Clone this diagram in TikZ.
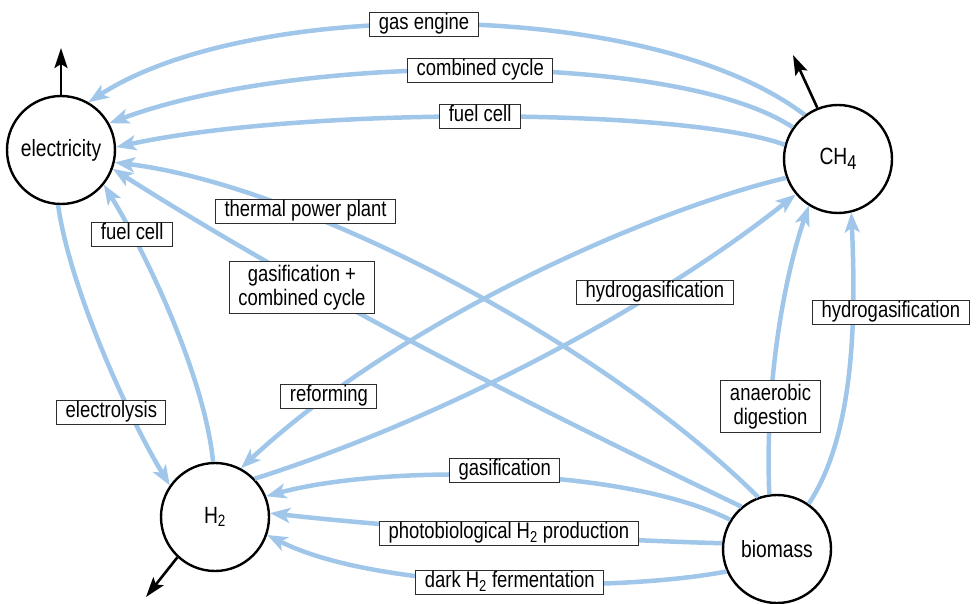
\documentclass[tikz,border=0pt]{standalone}
\usepackage{fontspec}
\setmainfont{Liberation Sans}[FakeStretch=0.82]
\usepackage{tikz}
\usetikzlibrary{arrows.meta}
\definecolor{flowcolor}{RGB}{160, 199, 234}
\definecolor{boxcolor}{RGB}{45, 45, 45}
\newcommand{\lowidx}[1]{\raisebox{-0.45ex}{\fontsize{20}{20}\selectfont #1}}

\begin{document}
\begin{tikzpicture}[x=1pt, y=-1pt,
    carrier/.style={draw, circle, line width=2.4pt, fill=white, minimum size=108pt, inner sep=0pt, font=\fontsize{23.5}{25}\selectfont},
    flow/.style={draw=flowcolor, line width=4.5pt, -{Stealth[length=20pt, width=15pt, inset=5pt]}},
    routebase/.style={draw=boxcolor, line width=1pt, fill=white, text=black, inner xsep=9pt, font=\fontsize{22.5}{24}\selectfont, align=center},
    route/.style={routebase, inner ysep=3pt, text height=14pt, text depth=4pt},
    routetwo/.style={routebase, inner ysep=3.5pt},
    output/.style={line width=2.6pt, -{Stealth[length=20pt, width=13pt, inset=4pt]}}]
    \useasboundingbox (0,0) rectangle (979,604);

    % Energy carriers
    \node[carrier] (elec) at (61,150) {electricity};
    \node[carrier] (ch4) at (838,159) {CH\lowidx{4}};
    \node[carrier] (h2) at (215,517) {H\textsubscript{2}};
    \node[carrier] (bio) at (777,549) {biomass};

    % Methane to electricity
    \draw[flow] (ch4.127) .. controls (650,-3) and (250,-3) .. node[route, pos=0.53] {gas engine} (elec.60);
    \draw[flow] (ch4.145) .. controls (680,52) and (300,52) .. node[route, pos=0.5] {combined cycle} (elec.29);
    \draw[flow] (ch4.165) .. controls (680,107) and (300,107) .. node[route, pos=0.5] {fuel cell} (elec.3);

    % Biomass to electricity
    \draw[flow] (bio.110) .. controls (600,340) and (300,185) .. node[route, pos=0.7, yshift=3pt] {thermal power plant} (elec.-13);
    \draw[flow] (bio.130) .. controls (540,410) and (320,300) .. node[routetwo, pos=0.7, yshift=-6pt] {gasification +\\combined cycle} (elec.-20);

    % Hydrogen and electricity
    \draw[flow] (h2.92) .. controls (205,380) and (150,260) .. node[route, pos=0.8] {fuel cell} (elec.-39);
    \draw[flow] (elec.-93) .. controls (70,290) and (130,420) .. node[route, pos=0.7, xshift=-19pt] {electrolysis} (h2.145);

    % Methane and hydrogen
    \draw[flow] (ch4.200) .. controls (650,210) and (400,320) .. node[route, pos=0.83] {reforming} (h2.62);
    \draw[flow] (h2.44) .. controls (440,420) and (650,310) .. node[route, pos=0.71] {hydrogasification} (ch4.220);

    % Biomass to methane
    \draw[flow] (bio.98) .. controls (765,400) and (780,290) .. node[routetwo, pos=0.3] {anaerobic\\digestion} (ch4.238);
    \draw[flow] (bio.55) .. controls (858,430) and (855,300) .. node[route, pos=0.66, xshift=38pt] {hydrogasification} (ch4.284);

    % Biomass to hydrogen
    \draw[flow] (bio.148) .. controls (620,465) and (380,465) .. node[route, pos=0.49, yshift=5pt] {gasification} (h2.22);
    \draw[flow] (bio.174) .. controls (600,540) and (400,528) .. node[route, pos=0.48] {photobiological H\textsubscript{2} production} (h2.4);
    \draw[flow] (bio.204) .. controls (620,592) and (380,592) .. node[route, pos=0.48] {dark H\textsubscript{2} fermentation} (h2.-19);

    % Outputs
    \coordinate (elecout) at (61,48);
    \coordinate (ch4out) at (793,55);
    \coordinate (h2out) at (146,597);
    \draw[output] (elec.north) -- (elecout);
    \draw[output] (ch4.112) -- (ch4out);
    \draw[output] (h2.227) -- (h2out);
\end{tikzpicture}
\end{document}
